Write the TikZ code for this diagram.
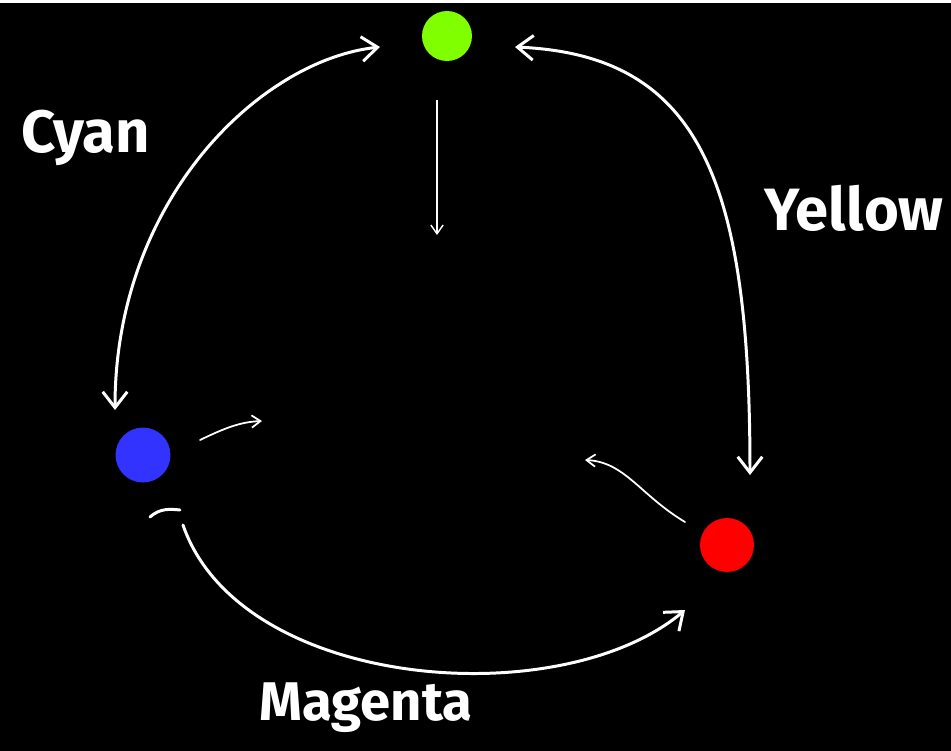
\documentclass[tikz,border=0pt]{standalone}
\usepackage{fontspec}
\setmainfont{Fira Sans}
\usetikzlibrary{arrows.meta}

\tikzset{
  dot/.style={circle,inner sep=0pt,minimum size=#1},
  arc/.style={white,line width=1.7pt,line cap=round},
  thin arc/.style={white,line width=1pt,line cap=round},
  label/.style={white,font=\bfseries\fontsize{34}{40}\selectfont}
}

\begin{document}
\begin{tikzpicture} [x=0.02cm,y=-0.02cm]

\useasboundingbox (0,0) rectangle (951,751);
\fill[black] (0,0) rectangle (951,751);
\fill[white] (0,0) rectangle (951,3);

\node[dot=1cm,fill={rgb,255:red,128;green,255;blue,0}] (green) at (447,36) {};
\node[dot=1.1cm,fill={rgb,255:red,51;green,51;blue,255}] (blue) at (143,455) {};
\node[dot=1.08cm,fill=red] (red) at (727,545) {};

\node[label] (cyan) at (86,138) {Cyan};
\node[label] (yellow) at (854,208) {Yellow};
\node[label,font=\bfseries\fontsize{31}{36}\selectfont] (magenta) at (366,708) {Magenta};

\coordinate (cyanA) at (380,47);
\coordinate (cyanB) at (115,410);
\coordinate (yellowA) at (515,47);
\coordinate (yellowB) at (750,475);
\coordinate (magentaA) at (183,525);
\coordinate (magentaB) at (685,610);
\coordinate (greenout) at (437,235);
\coordinate (blueout) at (262,421);
\coordinate (redout) at (585,460);

% color wheel arcs
\draw[arc,{Straight Barb[length=9pt,width=14pt,line width=1.7pt]}-{Straight Barb[length=9pt,width=14pt,line width=1.7pt]}]
  (cyanA) .. controls (260,60) and (115,200) .. (cyanB);
\draw[arc,{Straight Barb[length=9pt,width=14pt,line width=1.7pt]}-{Straight Barb[length=9pt,width=14pt,line width=1.7pt]}]
  (yellowA) .. controls (700,55) and (750,180) .. (yellowB);
\draw[arc,-{Straight Barb[length=9pt,width=14pt,line width=1.7pt]}]
  (magentaA) .. controls (240,690) and (560,715) .. (magentaB);

\draw[arc] (150,517) .. controls (160,508) and (170,509) .. (180,510);
\draw[thin arc] (268,92) -- (290,78);

% short arrows to the middle
\draw[white,line width=0.8pt,-{Straight Barb[length=5pt,width=7pt,line width=0.8pt]}]
  (437,100) -- (greenout);
\draw[thin arc,-{Straight Barb[length=5pt,width=7pt,line width=1pt]}]
  (200,440) .. controls (225,428) and (240,422) .. (blueout);
\draw[thin arc,-{Straight Barb[length=5pt,width=7pt,line width=1pt]}]
  (685,522) .. controls (640,495) and (625,462) .. (redout);

\end{tikzpicture}
\end{document}
